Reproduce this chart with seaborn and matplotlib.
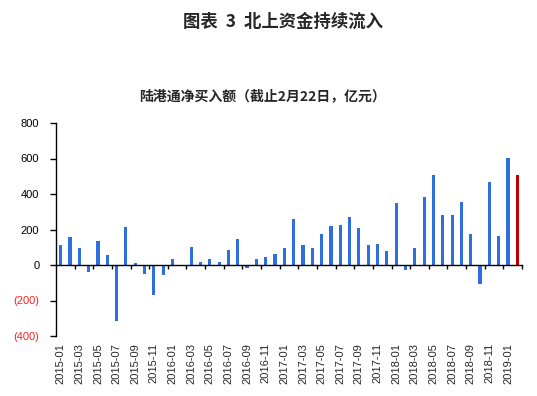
import numpy as np
import pandas as pd
import matplotlib
matplotlib.use('Agg')
import matplotlib.pyplot as plt
import seaborn as sns

# DATA (亿元)
months = pd.date_range('2015-01-01', '2019-02-01', freq='MS').strftime('%Y-%m').tolist()
net_buy = [110, 155, 93, -38, 138, 59, -316, 212, 13, -49, -168, -55,
           36, 0, 104, 19, 36, 19, 87, 149, -15, 36, 47, 64,
           93, 257, 110, 98, 172, 217, 223, 268, 206, 115, 121, 81,
           348, -26, 93, 382, 507, 280, 280, 353, 172, -106, 467, 161,
           603, 507]
yticks = [-400, -200, 0, 200, 400, 600, 800]
ytick_labels = ['(400)', '(200)', '0', '200', '400', '600', '800']

df = pd.DataFrame({'month': months, 'value': net_buy})
colors = ['#2E6FE0'] * (len(months) - 1) + ['#C00000']

sns.set_style('white')
plt.rcParams['font.family'] = ['Liberation Sans', 'DejaVu Sans']
cjk = ['Noto Sans CJK SC', 'DejaVu Sans']

fig = plt.figure(figsize=(5.37, 3.96), dpi=100)
ax = fig.add_axes([56/537, 1-336/396, 466/537, 213/396])

sns.barplot(data=df, x='month', y='value', hue='month', palette=colors,
            width=0.34, dodge=False, legend=False, ax=ax, saturation=1,
            linewidth=0, edgecolor='none')

ax.set_xlim(-0.5, len(months) - 0.5)
ax.set_ylim(-400, 800)
ax.set_xlabel('')
ax.set_ylabel('')

ax.set_yticks(yticks)
ax.set_yticklabels(ytick_labels, fontsize=8)
for lab, v in zip(ax.get_yticklabels(), yticks):
    lab.set_color('#FF2020' if v < 0 else 'black')
ax.tick_params(axis='y', direction='out', length=4, width=1, color='black', pad=8, left=True)

ax.set_xticks(range(0, len(months), 2))
ax.set_xticklabels(months[::2], rotation=90, fontsize=8)
ax.tick_params(axis='x', length=0, pad=5)

for s in ['top', 'right', 'bottom']:
    ax.spines[s].set_visible(False)
ax.spines['left'].set_color('black')
ax.spines['left'].set_linewidth(1)

# zero axis with boundary ticks every two months
zero_ax = ax.secondary_xaxis(1/3)
zero_ax.set_xticks(np.arange(1.5, len(months), 2))
zero_ax.minorticks_off()
zero_ax.tick_params(axis='x', which='major', direction='out', length=3, width=1,
                    color='black', labelbottom=False, labeltop=False)
zero_ax.spines['bottom'].set_color('black')
zero_ax.spines['bottom'].set_linewidth(1)
zero_ax.set_zorder(3)

fig.text(0.527, 0.945, '图表  3  北上资金持续流入', ha='center', va='center',
         fontsize=12.5, fontweight='bold', family=cjk)
fig.text(0.488, 0.758, '陆港通净买入额（截止2月22日，亿元）', ha='center', va='center',
         fontsize=10, fontweight='bold', family=cjk)

fig.savefig('out.png', dpi=100)
